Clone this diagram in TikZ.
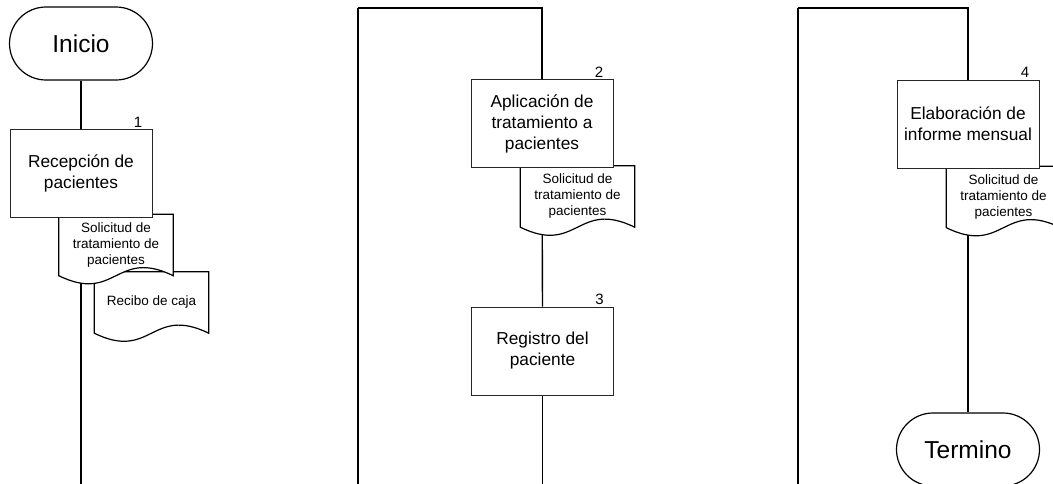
\documentclass[tikz,border=0pt]{standalone}
\usepackage{fontspec}
\setmainfont{Liberation Sans}
\usetikzlibrary{shapes.misc,calc}
\pgfdeclarelayer{bg}
\pgfsetlayers{bg,main}
\tikzset{
  terminal/.style={rounded rectangle, draw, line width=1.2pt, fill=white,
    minimum width=143pt, minimum height=73pt, inner sep=0pt,
    font=\fontsize{24.5}{28}\selectfont},
  stepbox/.style={rectangle, draw=black!85, line width=0.9pt, fill=white,
    minimum width=142pt, minimum height=88pt, inner sep=0pt, align=center,
    font=\fontsize{17.3}{21}\selectfont},
  docframe/.style={rectangle, minimum width=114pt, minimum height=61pt, inner sep=0pt},
  docline/.style={draw, line width=1.2pt, fill=white},
  doctext/.style={align=center, inner sep=0pt, font=\fontsize{13.5}{16}\selectfont},
  numlabel/.style={anchor=south east, inner sep=0pt, xshift=-10pt, yshift=1.5pt,
    font=\fontsize{15}{15}\selectfont},
  flow/.style={line width=1.4pt},
  lane/.style={line width=1.8pt},
}
% document sheet: invisible frame, wavy-bottomed outline, then its text
\newcommand\docsheet[3]{%
  \path (#2) node[docframe] (#1) {};
  \draw[docline] (#1.north west) -- (#1.north east) -- (#1.south east)
    .. controls ($(#1.south)+(0,-28)$) and ($(#1.south)+(0,28)$) .. (#1.south west) -- cycle;
  \node[doctext] (#1-t) at (#1.center) {#3};
}
\begin{document}
\begin{tikzpicture}[x=1pt,y=-1pt]
\useasboundingbox (0,0) rectangle (1053,483);

% column 1
\node[terminal] (inicio) at (81,43.5) {Inicio};
\docsheet{d2}{151.5,302.5}{Recibo de caja}
\docsheet{d1}{116,245}{Solicitud de\\tratamiento de\\pacientes}
\node[stepbox] (b1) at (81,173.5) {Recepción de\\pacientes};
\node[numlabel] (n1) at (b1.north east) {1};

% column 2
\docsheet{d3}{577.5,196.5}{Solicitud de\\tratamiento de\\pacientes}
\node[stepbox] (b2) at (542,123.5) {Aplicación de\\tratamiento a\\pacientes};
\node[numlabel] (n2) at (b2.north east) {2};
\node[stepbox] (b3) at (542.5,351) {Registro del\\paciente};
\node[numlabel] (n3) at (b3.north east) {3};

% column 3
\docsheet{d4}{1003.5,197}{Solicitud de\\tratamiento de\\pacientes}
\node[stepbox] (b4) at (968,124) {Elaboración de\\informe mensual};
\node[numlabel] (n4) at (b4.north east) {4};
\node[terminal] (termino) at (968,449.5) {Termino};

% lane turning points
\coordinate (l1bot) at (82,490);
\coordinate (l2bot) at (358,490);
\coordinate (l2top) at (358,8);
\coordinate (l3bot) at (798,490);
\coordinate (l3top) at (798,8);

\begin{pgfonlayer}{bg}
  \draw[flow] (inicio.south) -- (b1.north);
  \draw[lane] (b1.south) -- (b1.south |- l1bot);
  \draw[lane] (l2bot) -- (l2top);
  \draw[flow] (l2top) -| (b2.north);
  \draw[flow] (b2.south) -- (b3.north);
  \draw[flow] (b3.south) -- (b3.south |- l2bot);
  \draw[lane] (l3bot) -- (l3top);
  \draw[flow] (l3top) -| (b4.north);
  \draw[flow] (b4.south) -- (termino.north);
\end{pgfonlayer}
\end{tikzpicture}
\end{document}
